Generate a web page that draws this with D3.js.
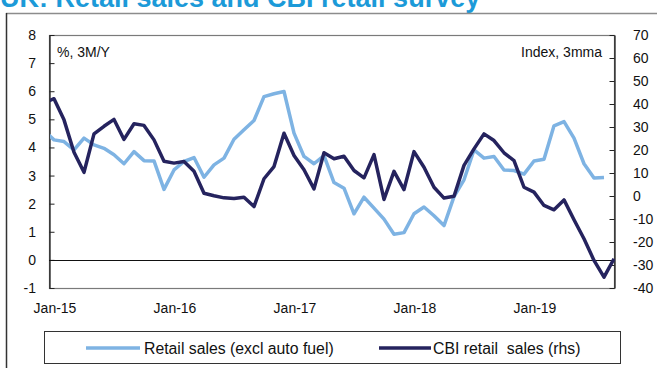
<!DOCTYPE html>
<html>
<head>
<meta charset="utf-8">
<script src="https://cdn.jsdelivr.net/npm/d3@7"></script>
<style>
  body { margin: 0; background: #fff; }
  svg { display: block; font-family: "Liberation Sans", Arial, sans-serif; }
</style>
</head>
<body>
<div id="chart"></div>
<script>
// months run Dec-14 .. Sep-19 (index 0 = Dec-14)
const months = d3.timeMonth.range(new Date(2014, 11, 1), new Date(2019, 9, 1)).map(d3.timeFormat("%b-%y"))

// Retail sales excl auto fuel, %, 3M/Y (Dec-14 .. Aug-19)
const retailSales = [4.6,
  4.27, 4.21, 3.91, 4.33, 4.09, 3.97, 3.74, 3.42, 3.85, 3.53, 3.52, 2.51,
  3.20, 3.50, 3.64, 2.94, 3.38, 3.62, 4.29, 4.63, 4.96, 5.81, 5.91, 5.99,
  4.51, 3.68, 3.42, 3.71, 2.75, 2.55, 1.64, 2.23, 1.84, 1.45, 0.91, 0.97,
  1.64, 1.88, 1.57, 1.22, 2.25, 2.85, 3.91, 3.62, 3.68, 3.20, 3.18, 3.05,
  3.52, 3.58, 4.77, 4.92, 4.33, 3.42, 2.91, 2.93]

// CBI retail sales, index 3mma (Dec-14 .. Sep-19)
const cbiSales = [40.5,
  42.3, 33.1, 19.0, 10.3, 27.0, 30.3, 33.3, 24.6, 31.4, 30.7, 24.4, 15.1,
  14.3, 15.0, 10.8, 1.2, 0.1, -0.8, -1.1, -0.5, -4.6, 7.5, 12.8, 27.3,
  17.6, 11.4, 3.1, 18.8, 16.2, 17.3, 11.1, 7.9, 18.0, -1.5, 10.7, 2.8,
  19.3, 12.5, 3.8, -0.9, -0.1, 13.3, 20.5, 27.0, 24.1, 18.8, 15.4, 3.8,
  1.7, -4.1, -6.0, -1.7, -10.3, -18.6, -28.0, -35.3, -27.3]

const xTickLabels = ["Jan-15", "Jan-16", "Jan-17", "Jan-18", "Jan-19"]
const leftTicks = [-1, 0, 1, 2, 3, 4, 5, 6, 7, 8]
const rightTicks = [-40, -30, -20, -10, 0, 10, 20, 30, 40, 50, 60, 70]
const seriesNames = ["Retail sales (excl auto fuel)", "CBI retail  sales (rhs)"]

const colors = { retail: "#7eb3e3", cbi: "#25235e", title: "#1c9ad8" }

const W = 657, H = 368
const plot = { left: 49, right: 614, top: 35, bottom: 288 }

const svg = d3.select("#chart").append("svg")
  .attr("width", W)
  .attr("height", H)

// title (cut off at the top in the original)
svg.append("text")
  .attr("x", 0)
  .attr("y", 7)
  .attr("font-size", 27)
  .attr("font-weight", "bold")
  .attr("fill", colors.title)
  .text("UK: Retail sales and CBI retail survey")

// outer frame
svg.append("line").attr("x1", 6).attr("x2", W).attr("y1", 13.5).attr("y2", 13.5)
  .attr("stroke", "#8c8c8c").attr("stroke-width", 1.5)
svg.append("line").attr("x1", 6.5).attr("x2", 6.5).attr("y1", 13).attr("y2", H)
  .attr("stroke", "#333").attr("stroke-width", 1.5)

//scales
const x = d3.scaleLinear().domain([-0.5, 56]).range([plot.left, plot.right])
const idx = (i) => i - 1   // index 0 is Dec-14
const yL = d3.scaleLinear().domain([-1, 8]).range([plot.bottom, plot.top])
const yR = d3.scaleLinear().domain([-40, 70]).range([plot.bottom, plot.top])

// plot border
svg.append("rect")
  .attr("x", plot.left + 0.5).attr("y", plot.top + 0.5)
  .attr("width", plot.right - plot.left).attr("height", plot.bottom - plot.top)
  .attr("fill", "none").attr("stroke", "#7a7a7a").attr("stroke-width", 1.2)

svg.append("defs").append("clipPath").attr("id", "clip")
  .append("rect")
  .attr("x", plot.left + 1).attr("y", plot.top)
  .attr("width", plot.right - plot.left).attr("height", plot.bottom - plot.top)

// left axis
const axisL = svg.append("g")
  .attr("transform", "translate(" + (plot.left + 0.5) + ",0)")
  .call(d3.axisRight(yL).tickValues(leftTicks).tickSize(5).tickSizeOuter(0).tickFormat(""))
axisL.select(".domain").attr("stroke", "#111").attr("stroke-width", 1.2)
axisL.selectAll(".tick line").attr("stroke", "#222")

svg.append("g").selectAll("text")
  .data(leftTicks)
  .enter().append("text")
  .attr("x", 36)
  .attr("y", (d) => yL(d) + 5)
  .attr("text-anchor", "end")
  .attr("font-size", 14)
  .attr("fill", "#111")
  .text((d) => d)

// right axis
const axisR = svg.append("g")
  .attr("transform", "translate(" + (plot.right + 0.5) + ",0)")
  .call(d3.axisLeft(yR).tickValues(rightTicks).tickSize(5).tickSizeOuter(0).tickFormat(""))
axisR.select(".domain").attr("stroke", "#111").attr("stroke-width", 1.2)
axisR.selectAll(".tick line").attr("stroke", "#222")

svg.append("g").selectAll("text")
  .data(rightTicks)
  .enter().append("text")
  .attr("x", 633)
  .attr("y", (d) => yR(d) + 5)
  .attr("font-size", 14)
  .attr("fill", "#111")
  .text((d) => d)

// x labels
svg.append("g").selectAll("text")
  .data(xTickLabels)
  .enter().append("text")
  .attr("x", (d) => x(months.indexOf(d) - 1) + 1)
  .attr("y", 313)
  .attr("text-anchor", "middle")
  .attr("font-size", 14)
  .attr("fill", "#111")
  .text((d) => d)

// zero line
svg.append("line")
  .attr("x1", plot.left).attr("x2", plot.right)
  .attr("y1", Math.round(yL(0)) + 0.5).attr("y2", Math.round(yL(0)) + 0.5)
  .attr("stroke", "#111").attr("stroke-width", 1)

// unit labels
svg.append("text").attr("x", 57).attr("y", 57).attr("font-size", 14).attr("fill", "#111").text("%, 3M/Y")
svg.append("text").attr("x", 602).attr("y", 57).attr("font-size", 14).attr("fill", "#111")
  .attr("text-anchor", "end").text("Index, 3mma")

// lines
const lines = svg.append("g").attr("clip-path", "url(#clip)")

const retailLine = d3.line().x((d, i) => x(idx(i))).y((d) => yL(d))
const cbiLine = d3.line().x((d, i) => x(idx(i))).y((d) => yR(d))

lines.append("path")
  .attr("d", retailLine(retailSales))
  .attr("fill", "none").attr("stroke", colors.retail)
  .attr("stroke-width", 3.5).attr("stroke-linejoin", "round")

lines.append("path")
  .attr("d", cbiLine(cbiSales))
  .attr("fill", "none").attr("stroke", colors.cbi)
  .attr("stroke-width", 3.5).attr("stroke-linejoin", "round")

// legend
const legend = svg.append("g")
legend.append("rect")
  .attr("x", 44.5).attr("y", 331.5).attr("width", 576).attr("height", 32)
  .attr("fill", "#fff").attr("stroke", "#333").attr("stroke-width", 1)

const legendItems = [
  { name: seriesNames[0], color: colors.retail, x1: 86, x2: 140, tx: 144 },
  { name: seriesNames[1], color: colors.cbi, x1: 379, x2: 431, tx: 433 }
]
legendItems.forEach((d) => {
  legend.append("line").attr("x1", d.x1).attr("x2", d.x2).attr("y1", 348).attr("y2", 348)
    .attr("stroke", d.color).attr("stroke-width", 3.5)
  legend.append("text").attr("x", d.tx).attr("y", 353.5).attr("font-size", 15.8).attr("fill", "#111")
    .attr("xml:space", "preserve").style("white-space", "pre").text(d.name)
})
</script>
</body>
</html>
